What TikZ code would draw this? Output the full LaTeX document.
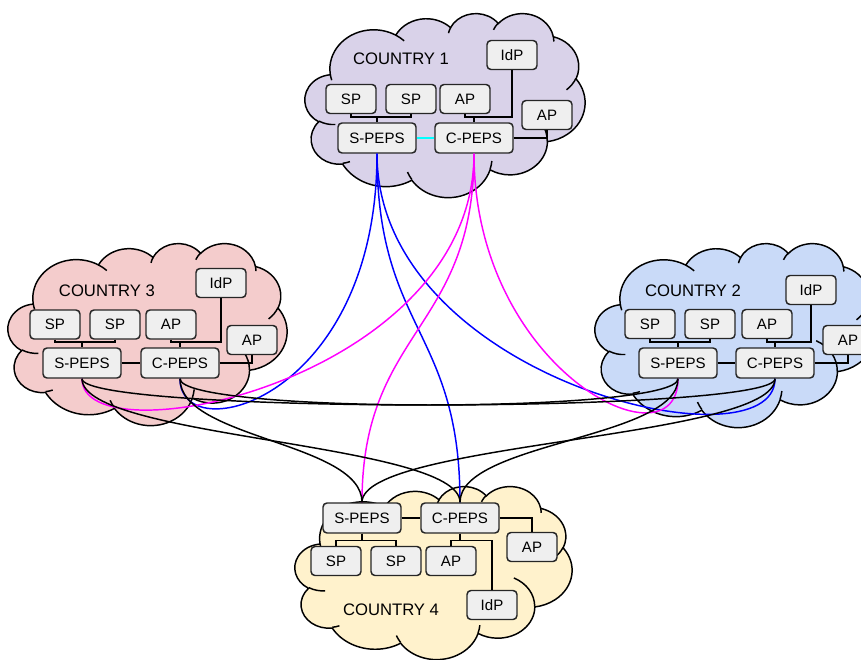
\documentclass[tikz,border=0pt]{standalone}
\usepackage{fontspec}
\setmainfont{Liberation Sans}
\definecolor{cloudone}{HTML}{D9D2E9}
\definecolor{cloudtwo}{HTML}{C9DAF8}
\definecolor{cloudthree}{HTML}{F4CCCC}
\definecolor{cloudfour}{HTML}{FFF2CC}
\definecolor{boxgray}{HTML}{EFEFEF}
\definecolor{linkblue}{RGB}{0,0,255}
\definecolor{linkpink}{RGB}{255,0,255}
\definecolor{linkcyan}{RGB}{0,255,255}

% one puff of the cloud, angles measured on the ellipse as seen
\newcommand\cloudarc[4]{arc[start angle={atan2(#1*sin(#3),#2*cos(#3))},
  delta angle={Mod(atan2(#1*sin(#3+#4),#2*cos(#3+#4))-atan2(#1*sin(#3),#2*cos(#3)),360)},
  x radius=#1, y radius=#2]}

% cloud in the box with top left corner (#1,#2), width #3, height #4
\newcommand\drawcloud[5]{%
  \begin{scope}[shift={(#1,#2)}, x={0.75pt*#3/432}, y={-0.75pt*#4/432}, line width=1.1pt]
    \filldraw[fill=#5] (39.00,143.70)
      \cloudarc{67.53}{91.90}{-190.4875}{123.7805}
      \cloudarc{53.33}{72.67}{-144.1024}{89.9452}
      \cloudarc{43.65}{59.45}{-145.8079}{99.7230}
      \cloudarc{48.57}{65.95}{-130.9861}{117.2417}
      \cloudarc{53.33}{72.73}{-78.7089}{109.0269}
      \cloudarc{67.75}{92.20}{-46.2673}{130.2690}
      \cloudarc{57.85}{78.67}{0.6250}{114.0333}
      \cloudarc{67.52}{92.15}{22.4516}{115.1726}
      \cloudarc{77.20}{105.43}{66.2426}{75.7110}
      \cloudarc{43.60}{59.18}{-274.9421}{146.7356}
      \cloudarc{43.45}{59.45}{-246.8285}{152.5189} -- cycle;
    \draw (46.93,261.77) \cloudarc{43.45}{59.45}{86.7420}{26.4295}
      (69.28,348.99) \cloudarc{43.60}{59.18}{73.6105}{11.4475}
      (164.78,390.90) \cloudarc{67.52}{92.15}{137.6242}{14.0811}
      (288.27,347.51) \cloudarc{67.52}{92.15}{6.4533}{15.9984}
      (341.29,229.54) \cloudarc{57.85}{78.67}{-70.2924}{70.9174}
      (417.98,153.54) \cloudarc{53.33}{72.73}{30.3180}{27.7515}
      (383.24,54.26) \cloudarc{48.57}{65.95}{-13.7443}{14.8589}
      (290.78,39.52) \cloudarc{48.57}{65.95}{-149.1815}{18.1954}
      (221.41,47.20) \cloudarc{43.65}{59.45}{-163.4943}{17.6864}
      (140.00,51.92) \cloudarc{67.53}{91.90}{-66.7070}{12.3194}
      (41.27,157.89) \cloudarc{67.53}{91.90}{157.6544}{11.8582};
  \end{scope}}

\begin{document}
\begin{tikzpicture}[x=0.75pt, y=-0.75pt,
  box/.style={draw=black!85, fill=boxgray, rounded corners=3pt, line width=1.1pt,
    minimum width=37.5pt, minimum height=21.75pt, inner sep=0pt,
    font=\fontsize{11.3}{13}\selectfont},
  peps/.style={box, minimum width=58.5pt, minimum height=22.5pt},
  country/.style={font=\fontsize{12.5}{15}\selectfont},
  tree/.style={line width=1pt},
  curve/.style={line width=1.1pt}]

\useasboundingbox (0,0) rectangle (861,660);

\drawcloud{305}{13}{280}{184}{cloudone}
\drawcloud{8}{243}{279}{182}{cloudthree}
\drawcloud{595}{243}{280}{184}{cloudtwo}
\drawcloud{295}{486}{277}{173}{cloudfour}

% country 1
\node[country] (name1) at (401,59) {COUNTRY 1};
\node[box] (spa1) at (351,99) {SP};
\node[box] (spb1) at (411,99) {SP};
\node[box] (apa1) at (465,99) {AP};
\node[box] (idp1) at (512,55) {IdP};
\node[box] (apb1) at (547,115) {AP};
\node[peps] (speps1) at (377,138) {S-PEPS};
\node[peps] (cpeps1) at (474,138) {C-PEPS};

% country 2
\node[country] (name2) at (693,291) {COUNTRY 2};
\node[box] (spa2) at (650,324) {SP};
\node[box] (spb2) at (710,324) {SP};
\node[box] (apa2) at (767,324) {AP};
\node[box] (idp2) at (811,290) {IdP};
\node[box] (apb2) at (848,340) {AP};
\node[peps] (speps2) at (678,363) {S-PEPS};
\node[peps] (cpeps2) at (775,363) {C-PEPS};

% country 3
\node[country] (name3) at (107,291) {COUNTRY 3};
\node[box] (spa3) at (55,324.5) {SP};
\node[box] (spb3) at (115,324.5) {SP};
\node[box] (apa3) at (171,324.5) {AP};
\node[box] (idp3) at (221,283) {IdP};
\node[box] (apb3) at (252,340) {AP};
\node[peps] (speps3) at (82,363) {S-PEPS};
\node[peps] (cpeps3) at (180,363) {C-PEPS};

% country 4
\node[peps] (speps4) at (362,518) {S-PEPS};
\node[peps] (cpeps4) at (460,518) {C-PEPS};
\node[box] (spa4) at (336,561) {SP};
\node[box] (spb4) at (396,561) {SP};
\node[box] (apa4) at (451,561) {AP};
\node[box] (apb4) at (532,547) {AP};
\node[box] (idp4) at (492,605) {IdP};
\node[country] (name4) at (391,610) {COUNTRY 4};

% links inside a country
\foreach \c in {1,2,3} {
  \draw[tree] (spa\c.south) |- ([yshift=4pt]speps\c.north) -- (speps\c.north);
  \draw[tree] (spb\c.south) |- ([yshift=4pt]speps\c.north) -- (speps\c.north);
  \draw[tree] (apa\c.south) |- ([yshift=4pt]cpeps\c.north) -- (cpeps\c.north);
  \draw[tree] (idp\c.south) |- ([yshift=4pt]cpeps\c.north) -- (cpeps\c.north);
  \draw[tree] (cpeps\c.east) -| (apb\c.south);
}
\draw[tree, linkcyan] (speps1) -- (cpeps1);
\draw[tree] (speps2) -- (cpeps2);
\draw[tree] (speps3) -- (cpeps3);

\draw[tree] (speps4.south) -- ([yshift=-5pt]speps4.south) -| (spa4.north);
\draw[tree] (speps4.south) -- ([yshift=-5pt]speps4.south) -| (spb4.north);
\draw[tree] (cpeps4.south) -- ([yshift=-5pt]cpeps4.south) -| (apa4.north);
\draw[tree] (cpeps4.south) -- ([yshift=-5pt]cpeps4.south) -| (idp4.north);
\draw[tree] (cpeps4.east) -| (apb4.north);
\draw[tree] (speps4) -- (cpeps4);

% links between countries
\draw[curve, linkblue] (speps1.south) .. controls +(0,247) and +(0,72) .. (cpeps3.south);
\draw[curve, linkblue] (speps1.south) .. controls +(0,227) and +(0,92) .. (cpeps2.south);
\draw[curve, linkblue] (speps1.south) .. controls +(0,177) and +(0,-173) .. (cpeps4.north);
\draw[curve, linkpink] (cpeps1.south) .. controls +(0,227) and +(0,82) .. (speps3.south);
\draw[curve, linkpink] (cpeps1.south) .. controls +(0,217) and +(0,92) .. (speps2.south);
\draw[curve, linkpink] (cpeps1.south) .. controls +(0,177) and +(0,-173) .. (speps4.north);
\draw[curve] (speps3.south) .. controls +(0,35) and +(0,35) .. (cpeps2.south);
\draw[curve] (cpeps3.south) .. controls +(0,35) and +(0,35) .. (speps2.south);
\draw[curve] (speps3.south) .. controls +(0,60) and +(0,-60) .. (cpeps4.north);
\draw[curve] (cpeps3.south) .. controls +(0,60) and +(0,-60) .. (speps4.north);
\draw[curve] (speps2.south) .. controls +(0,60) and +(0,-60) .. (cpeps4.north);
\draw[curve] (cpeps2.south) .. controls +(0,60) and +(0,-60) .. (speps4.north);

\end{tikzpicture}
\end{document}
